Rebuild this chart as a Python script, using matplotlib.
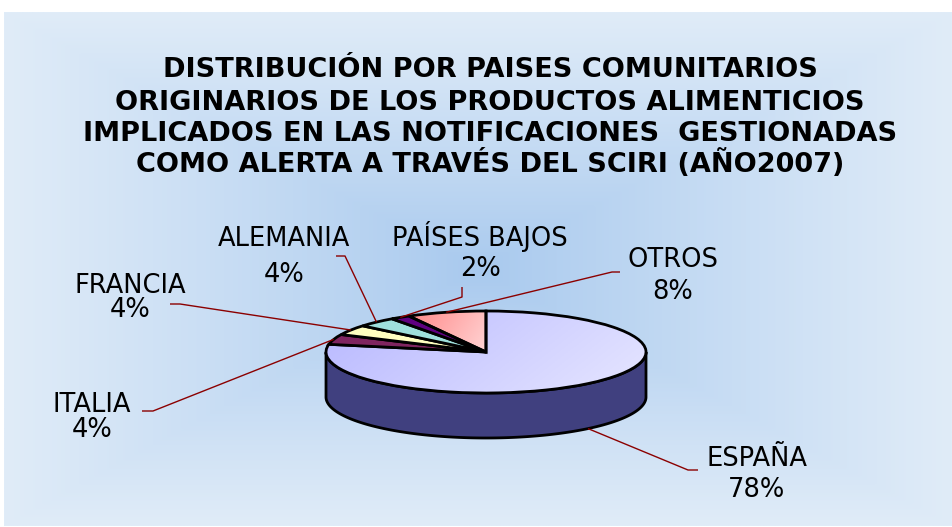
import numpy as np
import matplotlib
matplotlib.use("Agg")
import matplotlib.pyplot as plt
from matplotlib.colors import LinearSegmentedColormap, to_rgb

# ---------------------------------------------------------------------------
# Data
# ---------------------------------------------------------------------------

COUNTRIES = ["ESPAÑA", "ITALIA", "FRANCIA", "ALEMANIA", "PAÍSES BAJOS", "OTROS"]
PERCENTS = [78, 4, 4, 4, 2, 8]

TITLE_LINES = [
    "DISTRIBUCIÓN POR PAISES COMUNITARIOS",
    "ORIGINARIOS DE LOS PRODUCTOS ALIMENTICIOS",
    "IMPLICADOS EN LAS NOTIFICACIONES  GESTIONADAS",
    "COMO ALERTA A TRAVÉS DEL SCIRI (AÑO2007)",
]

# ---------------------------------------------------------------------------
# Style / layout (pixels, y measured from the top)
# ---------------------------------------------------------------------------

W, H = 952, 527
COLORS = ["#c8c8ff", "#7f2560", "#ffffc0", "#9fe0dc", "#5f0080", "#ff9a9a"]
GRADIENTS = {0: ("#b8b8ff", "#e6e6ff"), 5: ("#ff8888", "#ffd4d4")}
SIDE_COLOR = "#40407f"
LEADER_COLOR = "#8b0000"
BG_EDGE, BG_CENTER = "#e0ecf8", "#a8c9ee"

CX, CY, RX, RY, DEPTH = 486, 352, 160, 41, 45
TITLE_BASELINES = [77, 110, 141, 172]

# label centre x, name baseline, percent baseline, leader elbow, leader end
LABELS = [
    (757, 466, 497, (688, 470), (698, 470)),
    (92, 412, 437, (153, 411), (142, 411)),
    (130, 293, 317, (180, 304), (170, 304)),
    (284, 246, 282, (345, 256), (336, 256)),
    (480, 246, 276, (462, 297), (462, 287)),
    (673, 267, 299, (612, 272), (620, 272)),
]


def fx(x):
    return x / W


def fy(y):
    return 1 - y / H


fig = plt.figure(figsize=(W / 100, H / 100), dpi=100)
fig.patch.set_facecolor("white")

# background panel with a rectangular "from centre" gradient
bg = fig.add_axes([fx(4), fy(526), fx(W - 4), (526 - 12) / H])
bg.set_axis_off()
u = np.linspace(-1, 1, 480)
v = np.linspace(-1, 1, 260)
U, V = np.meshgrid(u, v)
t = np.clip(np.maximum(np.abs(U), np.abs(V)), 0, 1) ** 0.9
c0, c1 = np.array(to_rgb(BG_CENTER)), np.array(to_rgb(BG_EDGE))
rgb = c0[None, None, :] * (1 - t[..., None]) + c1[None, None, :] * t[..., None]
bg.imshow(rgb, aspect="auto", extent=(0, 1, 0, 1), interpolation="bilinear")

# ---------------------------------------------------------------------------
# 3D-looking pie
# ---------------------------------------------------------------------------

d = DEPTH / RY
ax = fig.add_axes([fx(CX - RX), fy(CY + RY + DEPTH), 2 * RX / W, (2 * RY + DEPTH) / H])
wedges, _ = ax.pie(PERCENTS, colors=COLORS, startangle=90, counterclock=False,
                   wedgeprops=dict(edgecolor="black", linewidth=2.0))
ax.set_axis_off()

for i, w in enumerate(wedges):
    w.set_zorder(3)
    w.set_clip_on(False)
    # side wall for the part of each slice facing the viewer
    ang = np.radians(np.linspace(w.theta1, w.theta2, 400))
    ang = ang[np.sin(ang) <= 1e-9]
    if ang.size:
        xs = np.concatenate([np.cos(ang), np.cos(ang)[::-1]])
        ys = np.concatenate([np.sin(ang), (np.sin(ang) - d)[::-1]])
        ax.fill(xs, ys, facecolor=SIDE_COLOR, edgecolor="black", linewidth=2.0,
                zorder=1, clip_on=False)
    if i in GRADIENTS:
        verts = w.get_path().vertices
        x0, x1 = verts[:, 0].min(), verts[:, 0].max()
        y0, y1 = verts[:, 1].min(), verts[:, 1].max()
        gx, gy = np.meshgrid(np.linspace(0, 1, 200), np.linspace(0, 1, 100))
        grad = np.clip(0.75 * gx + 0.25 * gy, 0, 1)
        cmap = LinearSegmentedColormap.from_list("g%d" % i, GRADIENTS[i])
        im = ax.imshow(grad, cmap=cmap, extent=(x0, x1, y0, y1), origin="upper",
                       aspect="auto", zorder=2, interpolation="bilinear")
        im.set_clip_path(w)
        w.set_facecolor("none")

ax.set_aspect("auto")
ax.set_xlim(-1, 1)
ax.set_ylim(-1 - d, 1)

# ---------------------------------------------------------------------------
# Title, labels and leader lines
# ---------------------------------------------------------------------------

ov = fig.add_axes([0, 0, 1, 1])
ov.set_xlim(0, W)
ov.set_ylim(H, 0)
ov.set_axis_off()
ov.patch.set_alpha(0)

for line, yb in zip(TITLE_LINES, TITLE_BASELINES):
    ov.text(490, yb, line, ha="center", va="baseline", fontsize=19.5,
            fontweight="bold", color="black")

for w, name, pct, (lx, ny, py, elbow, end) in zip(wedges, COUNTRIES, PERCENTS, LABELS):
    mid = np.radians((w.theta1 + w.theta2) / 2)
    sx = CX + RX * np.cos(mid)
    sy = CY - RY * np.sin(mid)
    if np.sin(mid) < 0:
        sy += DEPTH
    ov.plot([sx, elbow[0], end[0]], [sy, elbow[1], end[1]], color=LEADER_COLOR,
            linewidth=1.0, solid_capstyle="butt")
    ov.text(lx, ny, name, ha="center", va="baseline", fontsize=18.5, color="black")
    ov.text(lx, py, f"{pct}%", ha="center", va="baseline", fontsize=18.5, color="black")

fig.savefig("out.png", dpi=100)
